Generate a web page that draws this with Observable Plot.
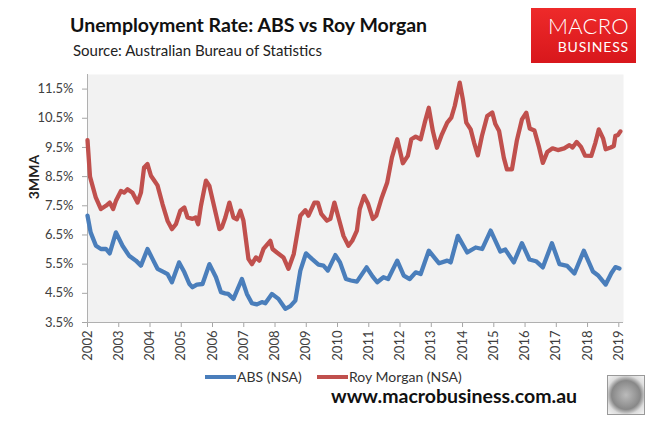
<!DOCTYPE html>
<html><head><meta charset="utf-8">
<script src="https://cdn.jsdelivr.net/npm/d3@7"></script>
<script src="https://cdn.jsdelivr.net/npm/@observablehq/plot@0.6"></script>
<style>
body{margin:0;background:#fff;font-family:Lato,"Open Sans",sans-serif;}
#wrap{position:relative;width:660px;height:427px;overflow:hidden;background:#fff;}
.abs{position:absolute;white-space:nowrap;}
#title{left:70px;top:13px;font-weight:bold;font-size:19.5px;color:#111;}
#sub{left:73px;top:41px;font-size:15px;color:#222;}
#logo{left:531px;top:8px;width:105px;height:55px;background:linear-gradient(180deg,#ee2a2a,#d8171c);color:#fff;}
#logo .m{position:absolute;right:7px;top:7px;font-size:22px;letter-spacing:0.3px;line-height:22px;font-weight:300;}
#logo .b{position:absolute;right:7px;top:32px;font-size:14px;letter-spacing:0.8px;line-height:14px;}
#ylab{left:33px;top:177px;transform:translate(-50%,-50%) rotate(-90deg);font-weight:bold;font-size:14px;color:#222;}
#chart{position:absolute;left:0;top:66px;}
.leg{position:absolute;top:368px;font-size:14px;color:#333;}
.sw{position:absolute;top:375px;height:4px;}
#url{left:331px;top:384px;font-weight:bold;font-size:19.5px;color:#111;}
#wolf{left:607px;top:375px;width:36px;height:38px;border:1.5px solid #999;background:radial-gradient(circle at 50% 50%,#bbb,#888 55%,#ddd 75%,#f4f4f4);}
</style>
</head><body>
<div id="wrap">
  <div id="title" class="abs">Unemployment Rate: ABS vs Roy Morgan</div>
  <div id="sub" class="abs">Source: Australian Bureau of Statistics</div>
  <div id="logo" class="abs"><span class="m">MACRO</span><span class="b">BUSINESS</span></div>
  <div id="ylab" class="abs">3MMA</div>
  <div id="chart"></div>
  <div class="sw" style="left:205px;width:31px;background:#4a7ebb"></div>
  <div class="leg" style="left:237px">ABS (NSA)</div>
  <div class="sw" style="left:317px;width:31px;background:#c0504d"></div>
  <div class="leg" style="left:349px">Roy Morgan (NSA)</div>
  <div id="url" class="abs">www.macrobusiness.com.au</div>
  <div id="wolf" class="abs"></div>
</div>
<script>
const seriesNames = ["ABS (NSA)", "Roy Morgan (NSA)"];
const seriesColors = ["#4a7ebb", "#c0504d"];
const yearTicks = [2002,2003,2004,2005,2006,2007,2008,2009,2010,2011,2012,2013,2014,2015,2016,2017,2018,2019];
const rateTicks = [3.5,4.5,5.5,6.5,7.5,8.5,9.5,10.5,11.5];

const absYear = [2002.00,2002.10,2002.27,2002.43,2002.59,2002.71,2002.91,2003.12,2003.33,2003.55,2003.71,2003.92,2004.08,2004.24,2004.46,2004.56,2004.70,2004.93,2005.10,2005.26,2005.36,2005.50,2005.68,2005.90,2006.11,2006.27,2006.40,2006.50,2006.67,2006.94,2007.10,2007.26,2007.42,2007.58,2007.69,2007.90,2008.11,2008.33,2008.49,2008.65,2008.81,2008.99,2009.18,2009.39,2009.55,2009.69,2009.93,2010.08,2010.27,2010.43,2010.62,2010.93,2011.12,2011.27,2011.47,2011.62,2011.91,2012.12,2012.31,2012.50,2012.66,2012.92,2013.25,2013.51,2013.62,2013.85,2014.15,2014.42,2014.63,2014.90,2015.21,2015.37,2015.64,2015.90,2016.14,2016.35,2016.57,2016.86,2017.10,2017.35,2017.58,2017.88,2018.17,2018.33,2018.58,2018.76,2018.89,2019.02];
const absRate = [7.16,6.59,6.13,6.02,6.02,5.87,6.59,6.13,5.79,5.62,5.45,6.02,5.68,5.34,5.22,5.16,4.88,5.56,5.22,4.82,4.71,4.80,4.82,5.50,5.05,4.54,4.50,4.48,4.31,4.99,4.48,4.16,4.12,4.20,4.16,4.48,4.31,3.97,4.06,4.25,5.28,5.87,5.68,5.48,5.45,5.28,5.81,5.56,4.99,4.94,4.90,5.39,5.08,4.88,5.05,4.99,5.62,5.11,4.99,5.22,5.16,5.96,5.53,5.62,5.56,6.47,5.90,6.07,6.02,6.65,5.93,6.00,5.56,6.22,5.66,5.60,5.39,6.22,5.50,5.44,5.18,5.96,5.25,5.12,4.80,5.19,5.40,5.35];

const rmYear = [2002.00,2002.08,2002.26,2002.43,2002.59,2002.71,2002.82,2002.91,2003.07,2003.17,2003.28,2003.44,2003.60,2003.71,2003.81,2003.92,2004.03,2004.14,2004.24,2004.40,2004.56,2004.70,2004.83,2004.97,2005.10,2005.20,2005.36,2005.46,2005.54,2005.63,2005.79,2005.90,2006.06,2006.22,2006.30,2006.41,2006.54,2006.67,2006.78,2006.89,2006.99,2007.15,2007.26,2007.39,2007.50,2007.63,2007.85,2007.92,2008.06,2008.27,2008.43,2008.60,2008.81,2008.97,2009.07,2009.26,2009.37,2009.48,2009.66,2009.77,2009.90,2010.03,2010.19,2010.35,2010.47,2010.62,2010.71,2010.85,2010.98,2011.13,2011.24,2011.40,2011.59,2011.74,2011.91,2012.09,2012.25,2012.36,2012.50,2012.66,2012.79,2012.92,2013.05,2013.18,2013.34,2013.51,2013.64,2013.75,2013.91,2014.01,2014.12,2014.26,2014.37,2014.49,2014.62,2014.79,2014.95,2015.05,2015.17,2015.32,2015.42,2015.58,2015.74,2015.90,2016.04,2016.15,2016.30,2016.45,2016.57,2016.71,2016.88,2017.05,2017.25,2017.42,2017.52,2017.65,2017.79,2017.92,2018.12,2018.25,2018.36,2018.50,2018.58,2018.74,2018.84,2018.89,2018.97,2019.05];
const rmRate = [9.75,8.50,7.80,7.39,7.50,7.61,7.39,7.67,8.01,7.95,8.07,7.95,7.61,7.95,8.81,8.93,8.53,8.36,8.20,7.56,6.99,6.70,6.87,7.33,7.44,7.10,7.05,7.10,6.87,7.50,8.36,8.18,7.44,6.70,6.76,7.10,7.61,7.10,7.04,7.33,6.99,5.68,5.50,5.73,5.62,6.02,6.30,6.02,5.90,5.73,5.34,5.85,7.16,7.35,7.16,7.61,7.61,7.22,6.99,7.05,7.61,7.10,6.47,6.13,6.30,6.65,7.39,7.84,7.56,7.05,7.16,7.73,8.30,9.15,9.78,8.96,9.21,9.78,9.87,9.78,10.35,10.86,10.06,9.49,9.95,10.35,10.52,10.92,11.72,11.15,10.35,10.12,9.66,9.23,9.89,10.58,10.70,10.30,10.06,9.15,8.75,8.75,9.75,10.46,10.69,10.15,10.08,9.50,8.97,9.34,9.47,9.41,9.47,9.58,9.50,9.69,9.52,9.22,9.21,9.66,10.12,9.80,9.44,9.50,9.55,9.90,9.92,10.05];

const rows = [
  ...absYear.map((x, i) => ({year: x, rate: absRate[i], series: seriesNames[0]})),
  ...rmYear.map((x, i) => ({year: x, rate: rmRate[i], series: seriesNames[1]}))
];

const chart = Plot.plot({
  width: 660,
  height: 300,
  marginLeft: 87,
  marginRight: 37,
  marginTop: 8,
  marginBottom: 44,
  style: {fontFamily: "Lato, 'Open Sans', sans-serif", fontSize: "13px", color: "#404040", background: "transparent"},
  x: {domain: [2002, 2019.15]},
  y: {domain: [3.5, 12]},
  color: {domain: seriesNames, range: seriesColors},
  marks: [
    Plot.frame({fill: "#f2f2f2", stroke: null}),
    Plot.axisY({ticks: rateTicks, tickFormat: d => d.toFixed(1) + "%", tickSize: 5, tickPadding: 9, stroke: "#a6a6a6", label: null}),
    Plot.axisX({ticks: yearTicks, tickFormat: d => String(d), tickRotate: -90, tickSize: 5, tickPadding: 3, stroke: "#a6a6a6", label: null}),
    Plot.ruleX([2002], {stroke: "#b0b0b0"}),
    Plot.ruleY([3.5], {stroke: "#b0b0b0"}),
    Plot.line(rows, {x: "year", y: "rate", z: "series", stroke: "series", strokeWidth: 4.3, strokeLinejoin: "round"})
  ]
});
document.getElementById("chart").appendChild(chart);
</script>
</body></html>
